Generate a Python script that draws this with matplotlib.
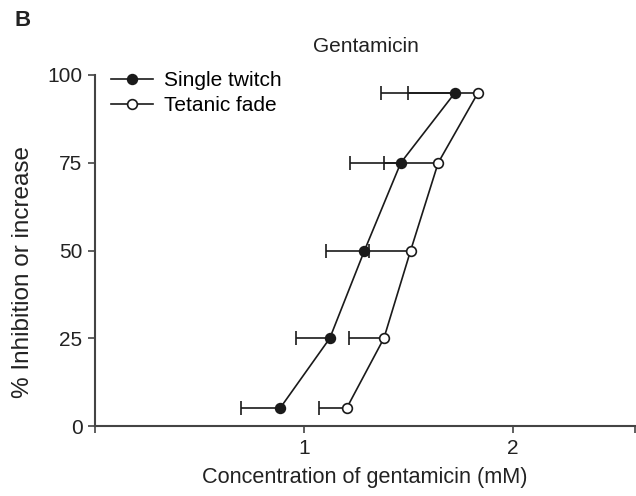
import matplotlib
matplotlib.use("Agg")
import matplotlib.pyplot as plt

plt.rcParams['font.family'] = ['Liberation Sans', 'DejaVu Sans']

# % inhibition levels (rows)
levels = [5, 25, 50, 75, 95]

# single twitch: concentration (mM) and left-side SD
single_x = [0.885, 1.124, 1.290, 1.464, 1.724]
single_err = [0.185, 0.162, 0.185, 0.241, 0.356]

# tetanic fade
tetanic_x = [1.204, 1.383, 1.511, 1.643, 1.834]
tetanic_err = [0.131, 0.166, 0.200, 0.259, 0.335]

xticks = [0, 1, 2, 2.585]
xticklabels = ['', '1', '2', '']
yticks = [0, 25, 50, 75, 100]

W, H = 636, 496
fig = plt.figure(figsize=(W / 100, H / 100), dpi=100)
ax = fig.add_axes([95 / W, (H - 426) / H, (635 - 95) / W, (426 - 75) / H])

dark = '#1a1a1a'
spine = '#444444'


def left_errorbar(x, y, err, mfc, label, z):
    eb = ax.errorbar(x, y, xerr=[err, [0] * len(err)], fmt='-o', color=dark,
                     mfc=mfc, mec=dark, ms=7, mew=1.2, lw=1.2, elinewidth=1.2,
                     capsize=5, capthick=1.2, label=label, zorder=z)
    # only the left cap is wanted
    caps = eb[1]
    if len(caps) > 1:
        caps[1].set_visible(False)
    return eb


left_errorbar(single_x, levels, single_err, dark, 'Single twitch', 3)
left_errorbar(tetanic_x, levels, tetanic_err, 'white', 'Tetanic fade', 4)

ax.set_xlim(0, 2.585)
ax.set_ylim(0, 100)
ax.set_xticks(xticks)
ax.set_xticklabels(xticklabels)
ax.set_yticks(yticks)

for s in ['top', 'right']:
    ax.spines[s].set_visible(False)
for s in ['left', 'bottom']:
    ax.spines[s].set_color(spine)
    ax.spines[s].set_linewidth(1.5)
ax.tick_params(axis='both', direction='out', length=5, width=1.2, color=spine,
               labelsize=15, labelcolor='#222222', pad=4)

ax.set_xlabel('Concentration of gentamicin (mM)', fontsize=15.6, color='#222222', labelpad=7)
fig.text(23 / W, 1 - 272 / H, '% Inhibition or increase', rotation=90,
         ha='center', va='center', fontsize=17.5, color='#222222')
fig.text(365.5 / W, 1 - 46 / H, 'Gentamicin', ha='center', va='center',
         fontsize=15, color='#222222')
fig.text(15 / W, 1 - 20 / H, 'B', ha='left', va='center', fontsize=16,
         fontweight='bold', color='#222222')

handles, labels = ax.get_legend_handles_labels()
handles = [h[0] for h in handles]
ax.legend(handles, labels, loc='upper left', bbox_to_anchor=(111 / W, 1 - 71 / H),
          bbox_transform=fig.transFigure, frameon=False, fontsize=15,
          handlelength=2.0, handletextpad=0.55, labelspacing=0.3,
          borderpad=0, borderaxespad=0)

fig.savefig('out.png', dpi=100)
